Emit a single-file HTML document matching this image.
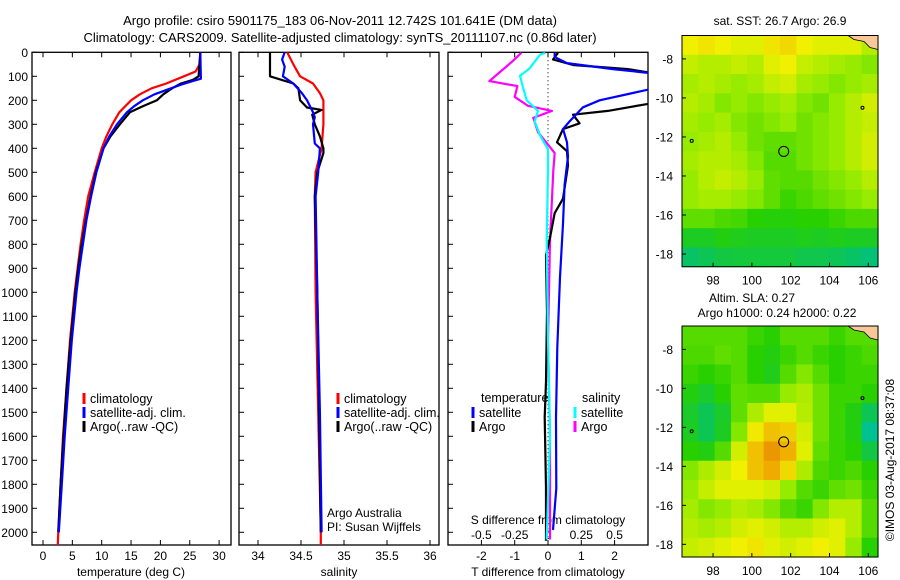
<!DOCTYPE html>
<html><head><meta charset="utf-8">
<style>
html,body{margin:0;padding:0;background:#fff;}
svg{display:block;font-family:"Liberation Sans",Helvetica,sans-serif;}
text{fill:#000;}
</style></head>
<body>
<svg id="fig" width="900" height="580" viewBox="0 0 900 580" xmlns="http://www.w3.org/2000/svg">
<text x="340" y="25" font-size="13" text-anchor="middle">Argo profile: csiro 5901175_183 06-Nov-2011 12.742S 101.641E (DM data)</text>
<text x="340" y="42" font-size="13" text-anchor="middle">Climatology: CARS2009. Satellite-adjusted climatology: synTS_20111107.nc (0.86d later)</text>
<text x="131" y="576" font-size="12" text-anchor="middle">temperature (deg C)</text>
<text x="339" y="576" font-size="12" text-anchor="middle">salinity</text>
<text x="548" y="576" font-size="12" text-anchor="middle">T difference from climatology</text>
<text x="548" y="524" font-size="12" text-anchor="middle">S difference from climatology</text>
<text x="780" y="25" font-size="12" text-anchor="middle">sat. SST: 26.7 Argo: 26.9</text>
<text x="752" y="302" font-size="12" text-anchor="middle">Altim. SLA: 0.27</text>
<text x="777" y="317" font-size="12" text-anchor="middle">Argo h1000: 0.24 h2000: 0.22</text>
<text transform="translate(894,460) rotate(-90)" font-size="12" text-anchor="middle">©IMOS 03-Aug-2017 08:37:08</text>
<text x="327" y="517" font-size="12">Argo Australia</text>
<text x="327" y="531" font-size="12">PI: Susan Wijffels</text>
</svg>
<script>
// ---- profile data (depth in m) ----
const tClimDepth = [0,50,80,100,130,150,175,200,250,300,350,400,500,600,700,800,900,1000,1200,1400,1600,1800,2000,2060];
const tClim      = [26.8,26.7,26.0,24.0,21.0,18.5,16.5,15.0,13.0,11.8,10.8,10.0,8.8,7.7,7.0,6.4,5.9,5.4,4.6,4.0,3.4,3.0,2.6,2.5];
const tArgoDepth = [0,100,115,130,150,175,200,225,250,300,350,400,500,600,700,800,900,1000,1200,1400,1600,1800,2000];
const tArgo      = [26.8,26.5,25.5,23.5,22.0,20.5,19.4,17.0,14.8,13.1,11.5,10.3,9.0,8.1,7.3,6.6,6.0,5.5,4.7,4.0,3.5,3.0,2.6];
const tSatDepth  = [0,110,120,135,150,175,200,225,250,300,350,400,500,600,700,800,900,1000,1200,1400,1600,1800,2000];
const tSat       = [26.8,26.9,25.5,23.5,21.8,19.0,17.0,15.5,14.3,12.6,11.3,10.3,9.1,8.2,7.4,6.8,6.2,5.7,4.9,4.3,3.7,3.2,2.7];

const sArgoDepth = [0,100,130,150,200,230,240,260,300,350,400,420,500,600,1000,1500,2000];
const sArgo      = [34.14,34.14,34.41,34.47,34.49,34.57,34.74,34.63,34.66,34.72,34.76,34.76,34.69,34.66,34.69,34.71,34.73];
const sClimDepth = [0,50,100,130,170,200,300,400,500,600,1000,1500,2000,2060];
const sClim      = [34.34,34.41,34.49,34.64,34.72,34.76,34.76,34.74,34.67,34.66,34.67,34.70,34.73,34.73];
const sSatDepth  = [0,30,60,100,130,170,200,250,270,300,380,400,500,600,1000,1500,2000];
const sSat       = [34.31,34.28,34.31,34.29,34.41,34.51,34.57,34.64,34.66,34.64,34.66,34.72,34.70,34.67,34.69,34.72,34.74];

const dTArgoDepth = [2,30,53,70,90,200,215,244,260,296,320,375,412,471,610,670,773,845,1082,1375,1520,1814,2035];
const dTArgo      = [0.3,0.15,0.75,2.4,3.3,3.3,3.0,1.8,0.75,0.95,0.45,0.27,0.57,0.6,0.45,0.2,0.06,-0.06,-0.03,-0.06,-0.1,-0.06,-0.06];
const dTSatDepth  = [2,20,45,70,90,150,156,200,229,288,320,375,434,552,714,937,1230,1524,1817,1990];
const dTSat       = [0.2,0.2,0.57,1.95,3.3,3.3,3.0,1.55,1.05,0.65,0.45,0.57,0.6,0.5,0.45,0.36,0.28,0.24,0.25,0.15];
const dSSatDepth  = [2,10,68,98,141,200,244,288,346,404,493,786,1200,1600,2030];
const dSSat       = [-0.02,-0.06,-0.14,-0.21,-0.19,-0.16,-0.075,-0.1,-0.06,0,0,-0.01,0,0.015,-0.01];
const dSArgoDepth = [2,39,82,120,141,186,223,244,273,333,420,493,786,1200,1600,2030];
const dSArgo      = [-0.2,-0.27,-0.36,-0.44,-0.23,-0.25,-0.15,0.03,-0.11,-0.075,0.05,0.04,0.015,0,0.015,0.015];

const depthTicks = [0,100,200,300,400,500,600,700,800,900,1000,1100,1200,1300,1400,1500,1600,1700,1800,1900,2000];
const tTicks = [0,5,10,15,20,25,30];
const sTicks = [34,34.5,35,35.5,36];
const sTickLabels = ['34','34.5','35','35.5','36'];
const dTTicks = [-2,-1,0,1,2];
const dSTicks = [-0.5,-0.25,0,0.25,0.5];
const dSTickLabels = ['-0.5','-0.25','0','0.25','0.5'];

// ---- map data (rows north->south, cols west->east, 0..1 colour index) ----
const sstGrid = [
[.74,.76,.74,.72,.72,.76,.78,.74,.72,.72,.72,.66],
[.68,.66,.66,.68,.66,.72,.74,.68,.66,.64,.62,.60],
[.64,.66,.64,.62,.64,.68,.70,.64,.62,.60,.62,.64],
[.66,.64,.60,.62,.60,.62,.64,.60,.58,.62,.66,.70],
[.64,.62,.64,.60,.58,.60,.62,.58,.60,.62,.66,.68],
[.62,.64,.66,.62,.58,.56,.56,.58,.60,.62,.66,.70],
[.64,.66,.66,.64,.60,.55,.55,.58,.60,.62,.66,.70],
[.62,.66,.68,.66,.62,.56,.55,.55,.58,.60,.62,.66],
[.62,.64,.64,.62,.60,.56,.52,.54,.56,.58,.60,.62],
[.56,.56,.54,.53,.50,.49,.49,.50,.50,.52,.54,.54],
[.46,.46,.48,.47,.46,.46,.46,.47,.46,.47,.46,.46],
[.38,.40,.42,.43,.43,.43,.43,.41,.41,.40,.38,.36]];
const slaGrid = [
[.55,.55,.55,.55,.52,.50,.55,.55,.55,.52,.55,.55],
[.54,.54,.56,.55,.50,.48,.52,.55,.52,.50,.52,.54],
[.52,.50,.52,.55,.50,.47,.55,.60,.55,.50,.52,.52],
[.48,.45,.50,.56,.55,.55,.62,.65,.58,.52,.52,.50],
[.45,.40,.45,.56,.65,.72,.72,.66,.58,.52,.48,.40],
[.46,.40,.46,.60,.75,.82,.80,.70,.58,.52,.48,.33],
[.50,.48,.55,.70,.82,.90,.85,.72,.56,.52,.50,.42],
[.60,.65,.70,.74,.82,.86,.78,.65,.54,.52,.54,.50],
[.62,.68,.72,.72,.72,.70,.62,.55,.52,.56,.58,.52],
[.64,.60,.62,.66,.64,.60,.55,.52,.60,.66,.66,.55],
[.66,.64,.66,.70,.72,.70,.66,.66,.70,.72,.66,.55],
[.68,.70,.72,.74,.76,.72,.70,.72,.74,.72,.62,.50]];
const lonTicks = [98,100,102,104,106];
const latTicks = [-8,-10,-12,-14,-16,-18];
const floatLon = 101.641, floatLat = -12.742;

const NS='http://www.w3.org/2000/svg';
const svg=document.getElementById('fig');
function el(tag,attrs,parent){const e=document.createElementNS(NS,tag);for(const k in attrs)e.setAttribute(k,attrs[k]);(parent||svg).appendChild(e);return e;}

const TOP=52.3, BOT=545, DPX=0.24;
const yD = d => TOP + d*DPX;
const panels = {
  temp:{x0:32,x1:231,f:v=>43+v*5.87},
  sal:{x0:239,x1:439,f:v=>258+(v-34)*86},
  diff:{x0:448,x1:648,f:v=>548+v*33.3},
};
const xS = v => 548 + v*133.2;

function frame(p,name){
  const r=el('rect',{x:p.x0,y:TOP,width:p.x1-p.x0,height:BOT-TOP,fill:'none',stroke:'#000','stroke-width':1.3});
  
  
  depthTicks.forEach(d=>{
    const t=el('line',{x1:p.x0,x2:p.x0+5,y1:yD(d),y2:yD(d),stroke:'#000'});
    
    
  });
}
frame(panels.temp,'temperature-panel');
frame(panels.sal,'salinity-panel');
frame(panels.diff,'difference-panel');

depthTicks.forEach(d=>{
  const t=el('text',{x:28,y:yD(d)+4.5,'font-size':12,'text-anchor':'end'});
  t.textContent=d;
  
  
});

function xTicks(p,vals,labels,fx,ly,name,topTicks){
  vals.forEach((v,i)=>{
    const x=fx(v);
    const tb=el('line',{x1:x,x2:x,y1:BOT,y2:BOT-5,stroke:'#000'});
    
    
    if(topTicks){
      const tt=el('line',{x1:x,x2:x,y1:TOP,y2:TOP+5,stroke:'#000'});
      
      
    }
    const t=el('text',{x:x,y:ly,'font-size':12,'text-anchor':'middle'});
    t.textContent=labels[i];
    
    
  });
}
xTicks(panels.temp,tTicks,tTicks.map(String),panels.temp.f,560,'temperature',true);
xTicks(panels.sal,sTicks,sTickLabels,panels.sal.f,560,'salinity',true);
xTicks(panels.diff,dTTicks,dTTicks.map(String),panels.diff.f,560,'t-difference',true);
dSTicks.forEach((v,i)=>{
  const t=el('text',{x:xS(v),y:539,'font-size':12,'text-anchor':'middle'});
  t.textContent=dSTickLabels[i];
  
  
});

const defs=el('defs',{});
['temp','sal','diff'].forEach(k=>{
  const p=panels[k];
  const c=el('clipPath',{id:'clip-'+k},defs);
  el('rect',{x:p.x0,y:TOP,width:p.x1-p.x0,height:BOT-TOP},c);
});

const dz=el('line',{x1:548,x2:548,y1:TOP,y2:BOT,stroke:'#000','stroke-dasharray':'1,3','stroke-width':1});



function series(depths,vals,fx,color,clip,name){
  const pts=depths.map((d,i)=>fx(vals[i]).toFixed(1)+','+yD(d).toFixed(1)).join(' ');
  const pl=el('polyline',{points:pts,fill:'none',stroke:color,'stroke-width':2.2,'clip-path':'url(#clip-'+clip+')','stroke-linejoin':'round'});
  
  
}
series(tClimDepth,tClim,panels.temp.f,'#ff0000','temp','temp-climatology-line');
series(tArgoDepth,tArgo,panels.temp.f,'#000000','temp','temp-argo-line');
series(tSatDepth,tSat,panels.temp.f,'#0000ff','temp','temp-satellite-line');
series(sClimDepth,sClim,panels.sal.f,'#ff0000','sal','sal-climatology-line');
series(sArgoDepth,sArgo,panels.sal.f,'#000000','sal','sal-argo-line');
series(sSatDepth,sSat,panels.sal.f,'#0000ff','sal','sal-satellite-line');
series(dSArgoDepth,dSArgo,xS,'#ff00ff','diff','s-diff-argo-line');
series(dTArgoDepth,dTArgo,panels.diff.f,'#000000','diff','t-diff-argo-line');
series(dTSatDepth,dTSat,panels.diff.f,'#0000ff','diff','t-diff-satellite-line');
series(dSSatDepth,dSSat,xS,'#00ffff','diff','s-diff-satellite-line');

function legend(x,y,color,label,name){
  const b=el('rect',{x:x-1.5,y:y-9,width:3,height:11,fill:color});
  
  
  if(label){
    const t=el('text',{x:x+6,y:y+1,'font-size':12.5});
    t.textContent=label;
    
    
  }
}
legend(84,402,'#ff0000','climatology','legend-temp-climatology');
legend(84,416,'#0000ff','satellite-adj. clim.','legend-temp-satellite');
legend(84,430,'#000000','Argo(..raw -QC)','legend-temp-argo');
legend(338,402,'#ff0000','climatology','legend-sal-climatology');
legend(338,416,'#0000ff','satellite-adj. clim.','legend-sal-satellite');
legend(338,430,'#000000','Argo(..raw -QC)','legend-sal-argo');
[['temperature',481],['salinity',582]].forEach(([s,x])=>{
  const t=el('text',{x:x,y:402,'font-size':12.5});
  t.textContent=s;
  
  
});
legend(473,416,'#0000ff','satellite','legend-tdiff-satellite');
legend(473,430,'#000000','Argo','legend-tdiff-argo');
legend(575,416,'#00ffff','satellite','legend-sdiff-satellite');
legend(575,430,'#ff00ff','Argo','legend-sdiff-argo');

// ---- maps ----
const stops=[[0,[0,64,255]],[0.2,[0,200,255]],[0.35,[0,192,128]],[0.5,[40,208,0]],[0.62,[150,235,0]],[0.74,[240,240,0]],[0.85,[240,176,0]],[1,[224,100,0]]];
function cmap(v){
  for(let i=1;i<stops.length;i++){
    if(v<=stops[i][0]){const a=stops[i-1],b=stops[i];const t=(v-a[0])/(b[0]-a[0]);
      return 'rgb('+a[1].map((c,j)=>Math.round(c+(b[1][j]-c)*t)).join(',')+')';}
  }
  return 'rgb(224,100,0)';
}
const LON0=96.4, LON1=106.5, LAT0=-6.8, LAT1=-18.65;
function drawMap(grid,y0,y1,name){
  const x0=682,x1=878;
  const fx=lon=>x0+(lon-LON0)/(LON1-LON0)*(x1-x0);
  const fy=lat=>y0+(lat-LAT0)/(LAT1-LAT0)*(y1-y0);
  const g=el('g',{});
  
  
  const rows=grid.length, cols=grid[0].length;
  const cw=(x1-x0)/cols, ch=(y1-y0)/rows;
  grid.forEach((row,r)=>row.forEach((v,c)=>{
    const cell=el('rect',{x:x0+c*cw,y:y0+r*ch,width:cw+0.6,height:ch+0.6,fill:cmap(v)},g);
    
    
  }));
  const land=el('path',{d:`M${x1-30},${y0} L${x1},${y0} L${x1},${y0+14} L${x1-8},${y0+12} L${x1-14},${y0+6} L${x1-24},${y0+4} Z`,fill:'#f8c898',stroke:'#000','stroke-width':0.8});
  
  
  el('rect',{x:x0,y:y0,width:x1-x0,height:y1-y0,fill:'none',stroke:'#000','stroke-width':1});
  [[105.7,-10.5],[96.9,-12.2]].forEach(p=>{
    const is=el('circle',{cx:fx(p[0]),cy:fy(p[1]),r:1.5,fill:'none',stroke:'#000','stroke-width':1});
    
    
  });
  const fc=el('circle',{cx:fx(floatLon),cy:fy(floatLat),r:5,fill:'none',stroke:'#000','stroke-width':1});
  
  
  lonTicks.forEach(l=>{
    el('line',{x1:fx(l),x2:fx(l),y1:y1,y2:y1-4,stroke:'#000'});
    const t=el('text',{x:fx(l),y:y1+18,'font-size':12,'text-anchor':'middle'});
    t.textContent=l;
    
    
  });
  latTicks.forEach(l=>{
    el('line',{x1:x0,x2:x0+4,y1:fy(l),y2:fy(l),stroke:'#000'});
    const t=el('text',{x:673,y:fy(l)+4.5,'font-size':12,'text-anchor':'end'});
    t.textContent=l;
    
    
  });
}
drawMap(sstGrid,35.5,266.7,'sst-map');
drawMap(slaGrid,326,557,'sla-map');
</script>
</body></html>
